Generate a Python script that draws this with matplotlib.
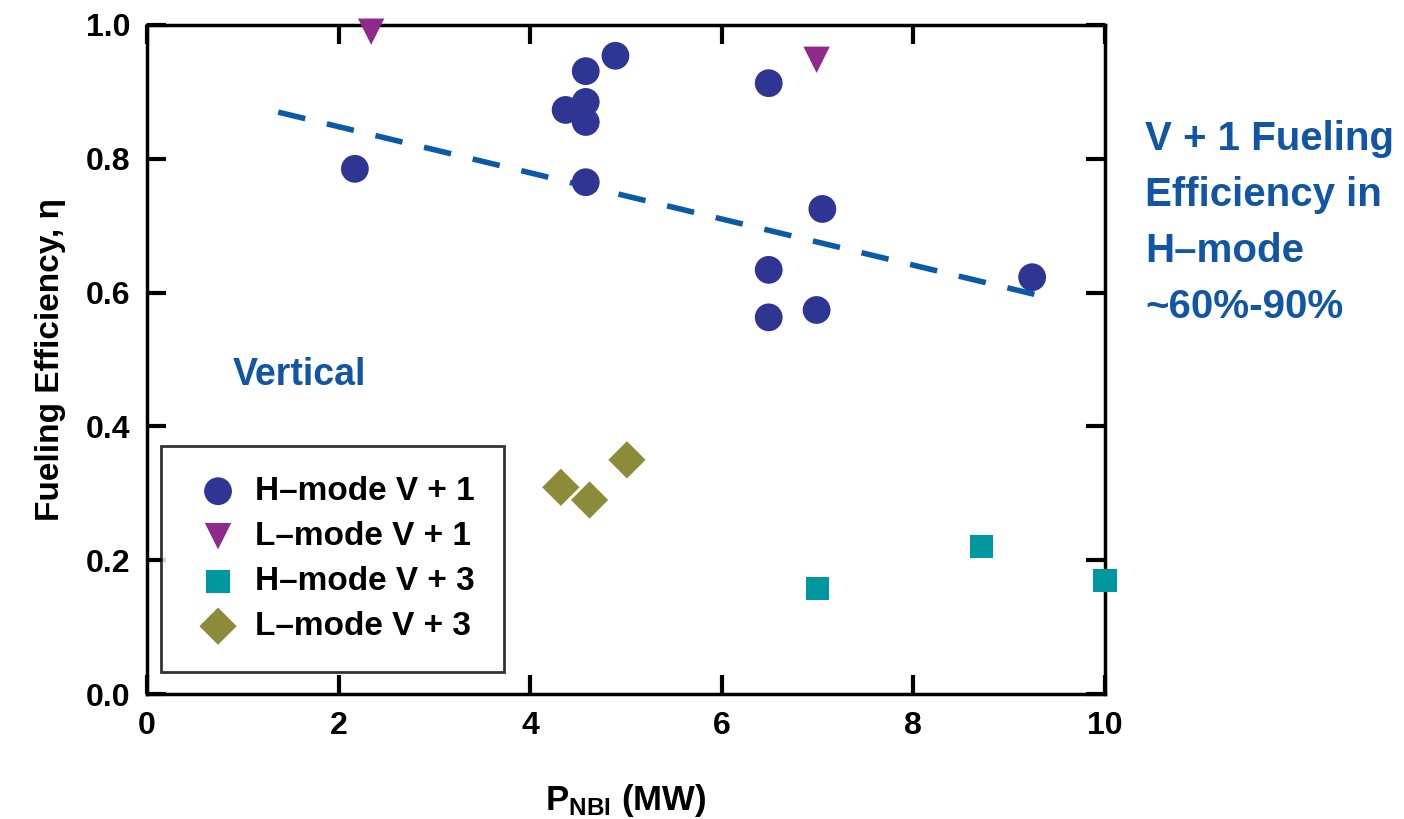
import matplotlib
matplotlib.use('Agg')
import matplotlib.pyplot as plt

plt.rcParams['font.family'] = ['Liberation Sans', 'DejaVu Sans']
plt.rcParams['font.weight'] = 'bold'
plt.rcParams['axes.labelweight'] = 'bold'
plt.rcParams['mathtext.fontset'] = 'custom'
plt.rcParams['mathtext.rm'] = 'Liberation Sans:bold'
plt.rcParams['mathtext.it'] = 'Liberation Sans:bold'
plt.rcParams['mathtext.bf'] = 'Liberation Sans:bold'

# данные
h1_x = [2.17, 4.37, 4.58, 4.58, 4.58, 4.58, 4.89, 6.49, 6.49, 6.49, 6.99, 7.05, 9.24]
h1_y = [0.785, 0.873, 0.931, 0.885, 0.855, 0.765, 0.954, 0.913, 0.634, 0.563, 0.574, 0.725, 0.623]

l1_x = [2.34, 6.99]
l1_y = [0.99, 0.948]

h3_x = [7.0, 8.71, 10.0]
h3_y = [0.158, 0.22, 0.17]

l3_x = [4.32, 4.62, 5.01]
l3_y = [0.309, 0.29, 0.35]

# линия тренда: y = b + k*x
fit_b = 0.917
fit_k = -0.0345
fit_x = [1.37, 9.4]

x_ticks = [0, 2, 4, 6, 8, 10]
y_ticks = [0.0, 0.2, 0.4, 0.6, 0.8, 1.0]

fig = plt.figure(figsize=(14.04, 8.19), dpi=100)
ax = fig.add_axes([0.1047, 0.1526, 0.6823, 0.8169])

ax.scatter(h1_x, h1_y, s=400, marker='o', color='#2e3592', edgecolors='none',
           label='H\u2013mode V + 1', zorder=3)
ax.scatter(l1_x, l1_y, s=360, marker='v', color='#8e2a8c', edgecolors='none',
           label='L\u2013mode V + 1', zorder=3, clip_on=False)
ax.scatter(h3_x, h3_y, s=280, marker='s', color='#00979e', edgecolors='none',
           label='H\u2013mode V + 3', zorder=3, clip_on=False)
ax.scatter(l3_x, l3_y, s=360, marker='D', color='#8b8b3a', edgecolors='none',
           label='L\u2013mode V + 3', zorder=3)

fit_y = [fit_b + fit_k * x for x in fit_x]
ax.plot(fit_x, fit_y, '--', color='#0b5aa8', lw=4, dashes=(5, 4), zorder=2)

ax.set_xlim(0, 10)
ax.set_ylim(0, 1.0)
ax.set_xticks(x_ticks)
ax.set_xticklabels([str(t) for t in x_ticks])
ax.set_yticks(y_ticks)
ax.set_yticklabels(['%.1f' % t for t in y_ticks])
ax.tick_params(direction='in', length=14, width=3, labelsize=23,
               top=True, right=True, pad=12)
for sp in ax.spines.values():
    sp.set_linewidth(2.5)

ax.set_xlabel(r'P$_{\mathrm{NBI}}$ (MW)', fontsize=25, labelpad=30)
ax.set_ylabel('Fueling Efficiency, \u03b7', fontsize=24, labelpad=14)

leg = ax.legend(loc='lower left', bbox_to_anchor=(0.015, 0.033), fontsize=24,
                frameon=True, fancybox=False, edgecolor='black',
                borderpad=0.9, labelspacing=0.42, handletextpad=0.3,
                handlelength=1.6, borderaxespad=0)
leg.get_frame().set_linewidth(2)

ax.text(0.089, 0.477, 'Vertical', transform=ax.transAxes, fontsize=27,
        color='#1155a5', ha='left', va='center')

fig.text(0.8155, 0.853, 'V + 1 Fueling\nEfficiency in\nH\u2013mode\n~60%-90%',
         fontsize=29, color='#1155a5', ha='left', va='top', linespacing=1.6)

plt.savefig('out.png', dpi=100)
